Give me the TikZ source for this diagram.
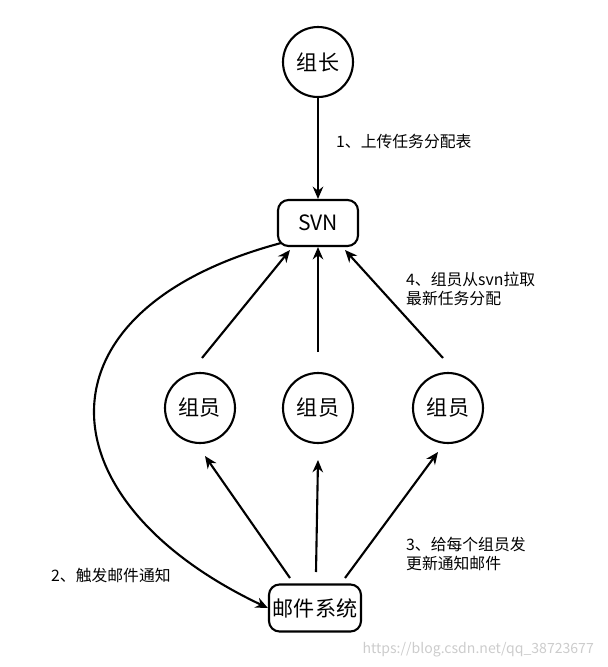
\documentclass[tikz,border=0pt]{standalone}
\usepackage{fontspec}
\setmainfont{Noto Sans CJK SC}
\usetikzlibrary{arrows.meta}
\begin{document}
\begin{tikzpicture}[x=0.02cm,y=-0.02cm,
  person/.style={draw,circle,line width=1.2pt,minimum size=70*0.02cm,inner sep=0pt,font=\large},
  box/.style={draw,rounded corners=6pt,line width=1.2pt,inner sep=0pt,font=\large},
  link/.style={-{Stealth[length=7pt,width=6pt]},line width=1.2pt},
  note/.style={font=\small,align=left,anchor=west}]
\useasboundingbox (0,0) rectangle (608,667);
\node[person] (leader) at (318,62) {组长};
\node[box,minimum width=80*0.02cm,minimum height=46*0.02cm] (svn) at (318,223) {SVN};
\node[person] (m1) at (200,408) {组员};
\node[person] (m2) at (318,408) {组员};
\node[person] (m3) at (448,408) {组员};
\node[box,minimum width=92*0.02cm,minimum height=47*0.02cm] (mail) at (315,608) {邮件系统};
% arrows up to svn
\coordinate (u1) at (202,358); \coordinate (u2) at (318,352); \coordinate (u3) at (443,358);
\coordinate (s1) at (290,250); \coordinate (s3) at (345,250);
\draw[link] (leader) -- (svn);
\draw[link] (u1) -- (s1);
\draw[link] (u2) -- (svn);
\draw[link] (u3) -- (s3);
% arrows up from mail
\coordinate (t1) at (290,578); \coordinate (t2) at (316,572); \coordinate (t3) at (345,578);
\coordinate (d1) at (205,456); \coordinate (d2) at (318,460); \coordinate (d3) at (438,452);
\draw[link] (t1) -- (d1);
\draw[link] (t2) -- (d2);
\draw[link] (t3) -- (d3);
\draw[link] (svn.south west) ++(4,-4) coordinate (c0)
  (c0) .. controls (30,310) and (40,500) .. (mail.west);
% labels
\node[note] (l1) at (330,142) {1、上传任务分配表};
\node[note] (l4) at (400,289) {4、组员从svn拉取\\最新任务分配};
\node[note] (l3) at (400,554) {3、给每个组员发\\更新通知邮件};
\node[note] (l2) at (45,575) {2、触发邮件通知};
\node[font=\footnotesize,text=gray!40,anchor=east] (wm) at (600,650) {https://blog.csdn.net/qq\_38723677};
\end{tikzpicture}
\end{document}
